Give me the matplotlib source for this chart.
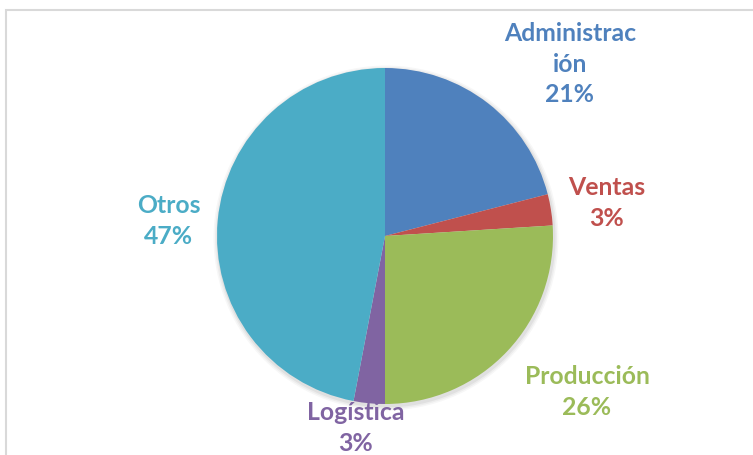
import matplotlib.pyplot as plt
from matplotlib.patches import Rectangle

# datos del gráfico
categorias = ['Administración', 'Ventas', 'Producción', 'Logística', 'Otros']
porcentajes = [21, 3, 26, 3, 47]
colores = ['#4F81BD', '#C0504D', '#9BBB59', '#8064A2', '#4BACC6']
etiquetas = ['Administrac\nión', 'Ventas', 'Producción', 'Logística', 'Otros']

# posiciones de las etiquetas (pixeles de la imagen)
pos_etiquetas = [(570, 64), (607, 203), (587, 392), (356, 428), (169, 221)]

W, H = 753, 456
fig = plt.figure(figsize=(W / 100, H / 100), dpi=100)
ax = fig.add_axes([0, 0, 1, 1])

# marco del área del gráfico
fig.patches.append(Rectangle((6.5 / W, -0.1), 1.2, (H - 10.5) / H + 0.1,
                             transform=fig.transFigure, fill=False,
                             edgecolor='#D9D9D9', linewidth=1.5))

cx, cy, r = 385, H - 237, 168

# sombra suave
for i, a in enumerate([0.05, 0.04, 0.03]):
    ax.add_patch(plt.Circle((cx + 1, cy - 2), r + 1.5 + i * 1.5, color='black',
                            alpha=a, linewidth=0, zorder=0))

ax.pie(porcentajes, colors=colores, startangle=90, counterclock=False,
       center=(cx, cy), radius=r, frame=True,
       wedgeprops=dict(linewidth=0))
ax.set_xlim(0, W)
ax.set_ylim(0, H)
ax.set_aspect('equal')
ax.axis('off')

for et, p, col, (x, y) in zip(etiquetas, porcentajes, colores, pos_etiquetas):
    ax.text(x, H - y, f'{et}\n{p}%', color=col, ha='center', va='center',
            fontsize=17.8, fontweight='bold', family=['Lato', 'DejaVu Sans'],
            linespacing=1.4)

fig.savefig('out.png', dpi=100)
